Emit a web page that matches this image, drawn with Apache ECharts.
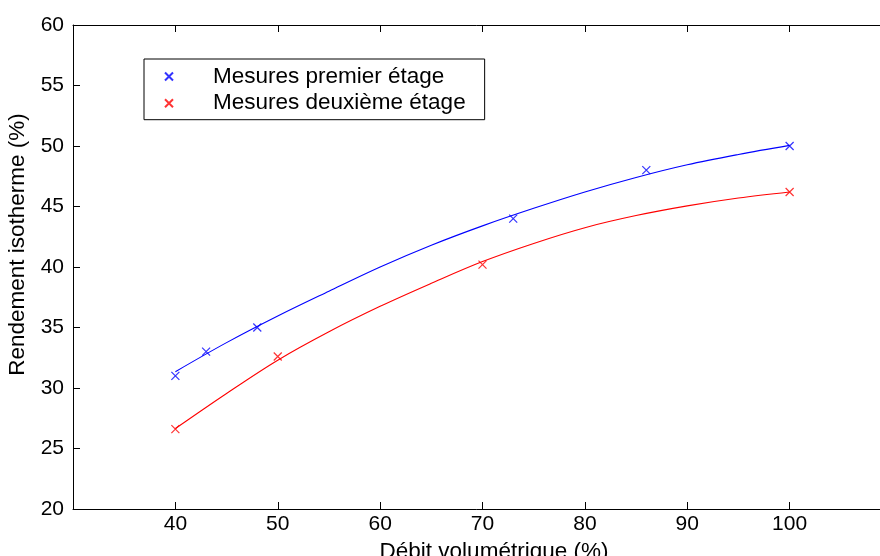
<!DOCTYPE html>
<html>
<head>
<meta charset="utf-8">
<script src="https://cdn.jsdelivr.net/npm/echarts@6/dist/echarts.min.js"></script>
<style>
html, body { margin: 0; padding: 0; background: #fff; }
#chart { width: 880px; height: 556px; }
</style>
</head>
<body>
<div id="chart"></div>
<script>
// Measured points
const blueX = [40, 43, 48, 73, 86, 100];
const blueY = [31.0, 33.0, 35.0, 44.0, 48.0, 50.0];
const redX = [40, 50, 70, 100];
const redY = [26.6, 32.6, 40.2, 46.2];
// Fitted curves
const fitX = [40, 45, 50, 55, 60, 65, 70, 75, 80, 85, 90, 95, 100];
const blueFit = [31.35, 33.75, 35.95, 38.0, 40.0, 41.8, 43.4, 44.85, 46.2, 47.4, 48.45, 49.3, 50.05];
const redFit = [26.65, 29.55, 32.3, 34.65, 36.75, 38.65, 40.45, 41.95, 43.25, 44.25, 45.05, 45.7, 46.2];
// Axes / labels
const xTitle = 'Débit volumétrique (%)';
const yTitle = 'Rendement isotherme (%)';
const seriesNames = ['Mesures premier étage', 'Mesures deuxième étage'];

const FONT = "'Liberation Sans', Arial, sans-serif";
const CROSS = 'path://M0,0L10,10M10,0L0,10';

function zip(xs, ys) { return xs.map((x, i) => [x, ys[i]]); }

const chart = echarts.init(document.getElementById('chart'), null, { renderer: 'canvas' });

const commonX = {
  type: 'value', min: 30, max: 110, interval: 10,
  splitLine: { show: false },
  axisLine: { lineStyle: { color: '#000', width: 1 } },
  axisTick: { inside: true, length: 7, lineStyle: { color: '#000' } }
};

chart.setOption({
  animation: false,
  backgroundColor: '#fff',
  grid: { left: 73, top: 25, right: -12, bottom: 47, containLabel: false, outerBoundsMode: 'none' },
  legend: {
    orient: 'vertical',
    left: 144, top: 59,
    padding: [6, 19, 5, 20],
    itemGap: 3.7,
    itemWidth: 20, itemHeight: 8,
    borderColor: '#000', borderWidth: 1,
    backgroundColor: '#fff',
    data: [
      { name: seriesNames[0], icon: CROSS },
      { name: seriesNames[1], icon: CROSS }
    ],
    textStyle: { fontFamily: FONT, fontSize: 22.5, color: '#000', lineHeight: 22, padding: [0, 0, 0, 29] },
    selectedMode: false
  },
  xAxis: [
    Object.assign({}, commonX, {
      position: 'bottom',
      name: xTitle, nameLocation: 'middle', nameGap: 26,
      nameTextStyle: { fontFamily: FONT, fontSize: 22.5, color: '#000', padding: [0, 0, 0, 23] },
      axisLabel: { fontFamily: FONT, fontSize: 21, color: '#000', margin: 5, showMinLabel: false, showMaxLabel: false }
    }),
    Object.assign({}, commonX, {
      position: 'top',
      axisLabel: { show: false }
    })
  ],
  yAxis: {
    type: 'value', min: 20, max: 60, interval: 5,
    splitLine: { show: false },
    axisLine: { show: true, lineStyle: { color: '#000', width: 1 } },
    axisTick: { show: true, inside: true, length: 7, lineStyle: { color: '#000' } },
    axisLabel: { fontFamily: FONT, fontSize: 21, color: '#000', margin: 9 },
    name: yTitle, nameLocation: 'middle', nameGap: 43,
    nameTextStyle: { fontFamily: FONT, fontSize: 22.5, color: '#000', padding: [0, 0, 0, 45] }
  },
  series: [
    {
      name: 'Ajustement premier étage', type: 'line', data: zip(fitX, blueFit),
      smooth: 0.35, showSymbol: false, silent: true,
      lineStyle: { color: '#0000ff', width: 1.1 }, z: 2
    },
    {
      name: 'Ajustement deuxième étage', type: 'line', data: zip(fitX, redFit),
      smooth: 0.35, showSymbol: false, silent: true,
      lineStyle: { color: '#ff0000', width: 1.1 }, z: 2
    },
    {
      name: seriesNames[0], type: 'scatter', data: zip(blueX, blueY),
      symbol: CROSS, symbolSize: 8,
      itemStyle: { color: '#0000ff', borderColor: '#0000ff', borderWidth: 1.2 }, z: 3
    },
    {
      name: seriesNames[1], type: 'scatter', data: zip(redX, redY),
      symbol: CROSS, symbolSize: 8,
      itemStyle: { color: '#ff0000', borderColor: '#ff0000', borderWidth: 1.2 }, z: 3
    }
  ]
});
</script>
</body>
</html>
